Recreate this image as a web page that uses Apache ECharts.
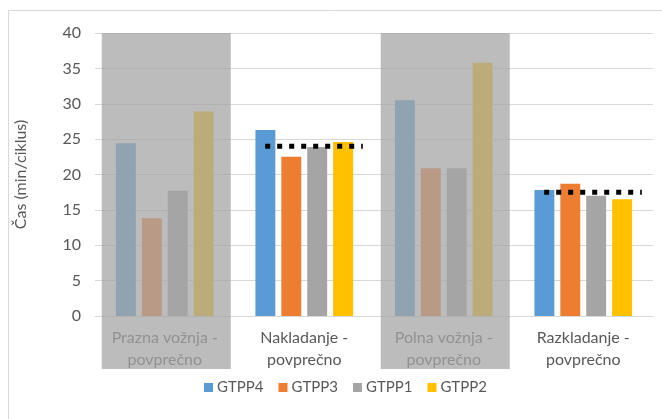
<!DOCTYPE html>
<html><head><meta charset="utf-8">
<script src="https://cdn.jsdelivr.net/npm/echarts@6/dist/echarts.min.js"></script>
<style>html,body{margin:0;padding:0;background:#fff}#c{width:662px;height:419px}</style>
</head><body><div id="c"></div>
<script>
var categories = ['Prazna vožnja -\npovprečno', 'Nakladanje -\npovprečno', 'Polna vožnja -\npovprečno', 'Razkladanje -\npovprečno'];
var seriesNames = ['GTPP4', 'GTPP3', 'GTPP1', 'GTPP2'];
var gtpp4 = [24.4, 26.3, 30.5, 17.8];
var gtpp3 = [13.8, 22.5, 20.9, 18.7];
var gtpp1 = [17.7, 23.9, 20.9, 17.0];
var gtpp2 = [28.9, 24.6, 35.8, 16.5];
var averageLine = [null, 24.0, null, 17.5];
var shadedCategories = [0, 2];
var yTicks = [0, 5, 10, 15, 20, 25, 30, 35, 40];
var colors = ['#5B9BD5', '#ED7D31', '#A5A5A5', '#FFC000'];
var FONT = 'Lato';

var chart = echarts.init(document.getElementById('c'), null, {renderer: 'canvas'});
var valuesList = [gtpp4, gtpp3, gtpp1, gtpp2];
var barSeries = seriesNames.map(function (n, i) {
  return {
    name: n, type: 'bar', data: valuesList[i], barGap: '30%', barCategoryGap: '30%',
    itemStyle: {color: colors[i]}, z: 2
  };
});

var avgData = [];
averageLine.forEach(function (v, i) { if (v != null) avgData.push([i, v]); });
var shadeData = shadedCategories.map(function (i) { return [i, yTicks[yTicks.length - 1]]; });

var option = {
  animation: false,
  color: colors,
  textStyle: {fontFamily: FONT},
  graphic: [{
    type: 'rect', shape: {x: 8.5, y: 10.5, width: 680, height: 430},
    style: {fill: 'none', stroke: '#d9d9d9', lineWidth: 1}, z: -10
  }],
  grid: {left: 95, right: 9, top: 33, bottom: 103},
  legend: {
    data: seriesNames, bottom: 19, left: 199,
    itemWidth: 9, itemHeight: 9, itemGap: 15, icon: 'rect',
    textStyle: {color: '#595959', fontSize: 15, fontFamily: FONT, padding: [0, 0, 0, -1]}
  },
  xAxis: {
    type: 'category', data: categories,
    axisLine: {show: true, lineStyle: {color: '#d9d9d9'}},
    axisTick: {show: false},
    axisLabel: {color: '#595959', fontSize: 16, lineHeight: 22, margin: 11, fontFamily: FONT, interval: 0}
  },
  yAxis: {
    type: 'value', min: 0, max: 40, interval: 5,
    name: 'Čas (min/ciklus)', nameLocation: 'middle', nameGap: 66, nameRotate: 90,
    nameTextStyle: {color: '#595959', fontSize: 16, fontFamily: FONT},
    axisLabel: {color: '#595959', fontSize: 16, margin: 14, fontFamily: FONT},
    axisLine: {show: false}, axisTick: {show: false},
    splitLine: {lineStyle: {color: '#d9d9d9'}}
  },
  series: barSeries.concat([
    {
      type: 'custom', name: 'avg', data: avgData, z: 5, silent: true,
      renderItem: function (params, api) {
        var p = api.coord([api.value(0), api.value(1)]);
        var band = api.size([1, 0])[0];
        return {
          type: 'line',
          shape: {x1: p[0] - band * 0.28, y1: p[1], x2: p[0] + band * 0.42, y2: p[1]},
          style: {stroke: '#000', lineWidth: 5, lineDash: [5, 7]}
        };
      }
    },
    {
      type: 'custom', name: 'shade', data: shadeData, z: 20, silent: true,
      renderItem: function (params, api) {
        var top = api.coord([api.value(0), api.value(1)]);
        var bottom = api.coord([api.value(0), 0]);
        var band = api.size([1, 0])[0];
        var w = band * 0.925;
        return {
          type: 'rect',
          shape: {x: top[0] - w / 2 + 1.5, y: top[1], width: w, height: bottom[1] - top[1] + 53},
          style: {fill: 'rgba(165,165,165,0.74)'}
        };
      }
    }
  ])
};
chart.setOption(option);
</script></body></html>
